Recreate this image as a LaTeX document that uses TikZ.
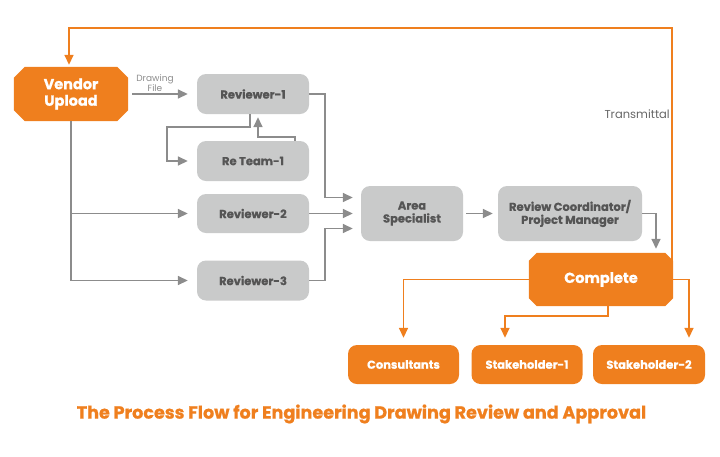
\documentclass[tikz,border=0pt]{standalone}
\usepackage{fontspec}
\setmainfont{Poppins}[BoldFeatures={FakeBold=0.8}]
\usetikzlibrary{arrows.meta,backgrounds}
\definecolor{orng}{HTML}{EF7F1E}
\definecolor{gbox}{HTML}{C9CACA}
\definecolor{gtext}{HTML}{555555}
\definecolor{gline}{HTML}{8C8C8C}
\tikzset{
  obox/.style={rectangle, text=white, font=\fontsize{14.5}{16.5}\selectfont\bfseries, align=center, inner sep=0pt},
  gray box/.style={rounded corners=9pt, fill=gbox, text=gtext, font=\fontsize{11.5}{13}\selectfont\bfseries, align=center, inner sep=0pt},
  ornd/.style={rounded corners=9pt, fill=orng, text=white, font=\fontsize{11.5}{13}\selectfont\bfseries, align=center, inner sep=0pt, minimum height=39pt},
  garrow/.style={draw=gline, line width=1.6pt, -{Triangle[length=10pt,width=9pt]}},
  oarrow/.style={draw=orng, line width=1.6pt, -{Triangle[length=10pt,width=9pt]}},
  small label/.style={text=gline, font=\fontsize{9}{10}\selectfont, align=center, inner sep=0pt},
}
\begin{document}
\begin{tikzpicture}[x=1pt,y=-1pt]
\useasboundingbox (0,0) rectangle (720,456);
% nodes
\node[obox, minimum width=114pt, minimum height=54pt] (vendor) at (71,94) {Vendor\\Upload};
\node[gray box, minimum width=112pt, minimum height=40pt] (rev1) at (253,94) {Reviewer-1};
\node[gray box, minimum width=112pt, minimum height=40pt] (reteam) at (253,161) {Re Team-1};
\node[gray box, minimum width=112pt, minimum height=39pt] (rev2) at (253,213.5) {Reviewer-2};
\node[gray box, minimum width=112pt, minimum height=40pt] (rev3) at (253,280.5) {Reviewer-3};
\node[gray box, minimum width=102pt, minimum height=55pt] (area) at (412,213.5) {Area\\Specialist};
\node[gray box, minimum width=144pt, minimum height=55pt] (rc) at (570,213.5) {Review Coordinator/\\Project Manager};
\node[obox, minimum width=144pt, minimum height=53pt] (complete) at (601,279.5) {Complete};
\node[ornd, minimum width=111pt] (cons) at (403.5,364.5) {Consultants};
\node[ornd, minimum width=111pt] (s1) at (527,364.5) {Stakeholder-1};
\node[ornd, minimum width=112pt] (s2) at (649,364.5) {Stakeholder-2};
\node[small label] (dfile) at (155,83) {Drawing\\File};
\node[text=gtext!90, font=\fontsize{11.5}{13}\selectfont, anchor=east, inner sep=0pt] (trans) at (670,114) {Transmittal};
\node[text=orng, font=\fontsize{17.6}{20}\selectfont\bfseries, inner sep=0pt] (title) at (361.5,414) {The Process Flow for Engineering Drawing Review and Approval};
% chamfered backgrounds
\begin{scope}[on background layer]
\fill[orng] ([xshift=11pt]vendor.north west) -- ([xshift=-11pt]vendor.north east) -- ([yshift=-11pt]vendor.north east) -- ([yshift=11pt]vendor.south east) -- ([xshift=-11pt]vendor.south east) -- ([xshift=11pt]vendor.south west) -- ([yshift=11pt]vendor.south west) -- ([yshift=-11pt]vendor.north west) -- cycle;
\fill[orng] ([xshift=8pt]complete.north west) -- ([xshift=-8pt]complete.north east) -- ([yshift=-8pt]complete.north east) -- ([yshift=8pt]complete.south east) -- ([xshift=-8pt]complete.south east) -- ([xshift=8pt]complete.south west) -- ([yshift=8pt]complete.south west) -- ([yshift=-8pt]complete.north west) -- cycle;
\end{scope}
% gray connectors
\draw[garrow, shorten <=4pt, shorten >=9pt] (vendor.east) -- (rev1.west);
\draw[garrow, shorten >=9pt] (vendor.south) |- (rev3.west);
\draw[garrow, shorten >=9pt] (vendor.south |- rev2.west) -- (rev2.west);
\draw[garrow] ([xshift=-3pt]rev1.south) -- ++(0,13) -| ([xshift=-30pt]reteam.west) -- ([xshift=-9pt]reteam.west);
\draw[garrow] ([xshift=42pt]reteam.north) -- ++(0,-4) -| ([xshift=5pt,yshift=-3pt]rev1.south);
\draw[garrow] (rev1.east) -- ++(16,0) |- ([xshift=-8pt,yshift=16pt]area.west);
\draw[garrow, shorten >=8pt] (rev2.east) -- (area.west);
\draw[garrow] (rev3.east) -- ++(16,0) |- ([xshift=-8pt,yshift=-15pt]area.west);
\draw[garrow, shorten <=3pt, shorten >=5pt] (area.east) -- (rc.west);
\draw[garrow] (rc.east) -| ([xshift=55pt,yshift=4pt]complete.north);
% orange connectors
\draw[oarrow] ([xshift=-1pt,yshift=19pt]complete.east) |- ([xshift=-2pt,yshift=39pt]vendor.north) -- ([xshift=-2pt,yshift=2pt]vendor.north);
\draw[oarrow] (complete.west) -| ([yshift=7pt]cons.north);
\draw[oarrow] ([xshift=7pt]complete.south) -- ++(0,10) -| ([xshift=-22pt,yshift=7pt]s1.north);
\draw[oarrow] (complete.east) -| ([xshift=40pt,yshift=7pt]s2.north);
\end{tikzpicture}
\end{document}
